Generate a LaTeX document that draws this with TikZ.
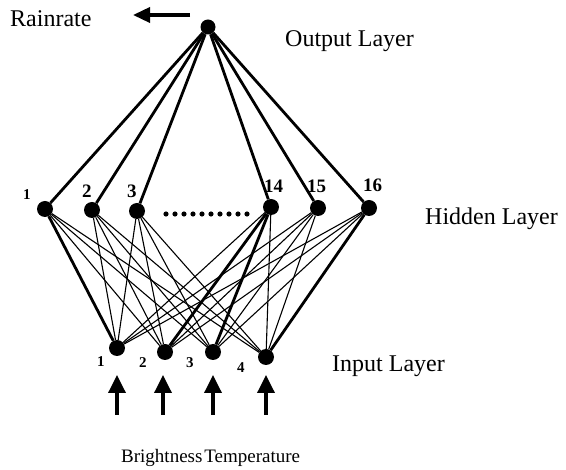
\documentclass[tikz,border=0pt]{standalone}
\usepackage{fontspec}
\setmainfont{Liberation Serif}
\usetikzlibrary{arrows.meta,backgrounds}
\begin{document}
\begin{tikzpicture}[x=1pt,y=-1pt,
  neuron/.style={circle,fill=black,inner sep=0pt,minimum size=#1},
  neuron/.default=16pt,
  layertext/.style={anchor=base west,inner sep=0pt,font=\fontsize{24}{28}\selectfont},
  numlabel/.style={anchor=base west,inner sep=0pt,font=\fontsize{#1}{#1}\selectfont\bfseries},
  numlabel/.default=19,
  strong/.style={line width=2.8pt},
  weak/.style={line width=1.1pt},
  bigarrow/.style={line width=3.5pt,-{Triangle[width=17pt,length=18pt]}}]
\useasboundingbox (0,0) rectangle (566,470);

% output neuron
\node[neuron=15pt] (o) at (208,27) {};

% hidden neurons
\node[neuron] (h1)  at (45,209) {};
\node[neuron] (h2)  at (92,210) {};
\node[neuron] (h3)  at (137,211) {};
\node[neuron] (h14) at (271,207) {};
\node[neuron] (h15) at (318,208) {};
\node[neuron] (h16) at (369,208) {};

% ellipsis between the hidden neurons 3 and 14
\foreach \k in {0,...,9}
  \fill (166+\k*9,214) circle (2.6pt);

% input neurons
\node[neuron] (i1) at (117,348) {};
\node[neuron] (i2) at (165,352) {};
\node[neuron] (i3) at (213,352) {};
\node[neuron] (i4) at (266,357) {};

% connections
\begin{scope}[on background layer]
  \foreach \h in {h1,h2,h3,h14,h15,h16}
    \draw[strong] (o) -- (\h);
  \foreach \h in {h1,h2,h3,h14,h15,h16}
    \foreach \i in {i1,i2,i3,i4}
      \draw[weak] (\h) -- (\i);
  \draw[strong] (h1) -- (i1);
  \draw[strong] (h14) -- (i2);
  \draw[strong] (h14) -- (i3);
  \draw[strong] (h16) -- (i4);
\end{scope}

% neuron numbers
\node[numlabel=15] (n1)  at (23,200) {1};
\node[numlabel] (n2)  at (82,198) {2};
\node[numlabel] (n3)  at (127,198) {3};
\node[numlabel] (n14) at (264,193) {14};
\node[numlabel] (n15) at (307,193) {15};
\node[numlabel] (n16) at (363,192) {16};
\node[numlabel=15] (m1) at (97,367) {1};
\node[numlabel=15] (m2) at (139,368) {2};
\node[numlabel=15] (m3) at (186,368) {3};
\node[numlabel=15] (m4) at (237,373) {4};

% output arrow
\coordinate (otail) at (190,15);
\coordinate (otip) at (133,15);
\draw[line width=3.5pt,-{Triangle[width=15pt,length=17pt]}] (otail) -- (otip);

% input arrows
\foreach \n/\x in {1/117,2/163,3/213,4/266}{
  \coordinate (itail\n) at (\x,415);
  \coordinate (itip\n) at (\x,375);
  \draw[bigarrow] (itail\n) -- (itip\n);
}

% layer captions
\node[layertext] (rain) at (10,27) {Rainrate};
\node[layertext] (outl) at (285,47) {Output Layer};
\node[layertext] (hidl) at (425,225) {Hidden Layer};
\node[layertext] (inl) at (332,372) {Input Layer};
\node[anchor=base west,inner sep=0pt,font=\fontsize{19}{22}\selectfont] (bt) at (121,463) {Brightness\hspace{0.1em}Temperature};
\end{tikzpicture}
\end{document}
